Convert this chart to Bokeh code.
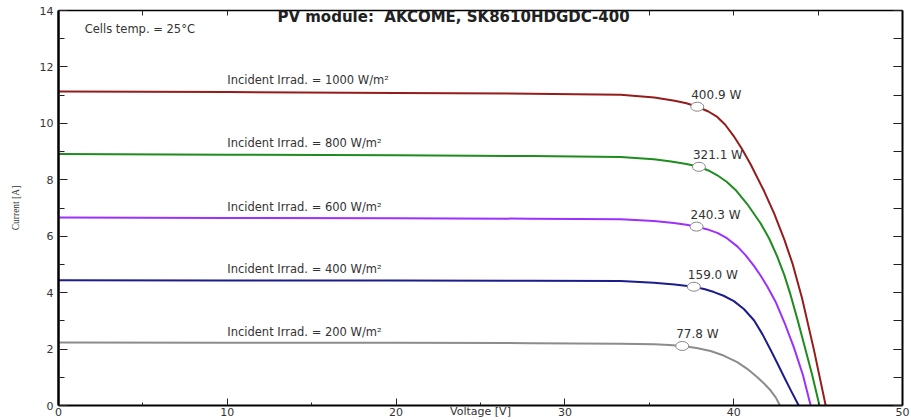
from bokeh.plotting import figure
from bokeh.models import (Range1d, LinearAxis, SingleIntervalTicker, FixedTicker, Label,
                          ColumnDataSource, CustomJSTickFormatter)
from bokeh.embed import file_html
from bokeh.resources import INLINE
from bokeh.core.properties import value

# ---------------- data ----------------
irradiance = [1000, 800, 600, 400, 200]
colors = ["#961b1b", "#1e8c1e", "#9b30ff", "#1c1c8c", "#8c8c8c"]

v_1000 = [0, 10, 20, 28, 33.3, 35.3, 36.5, 37.2, 37.84, 38.5, 39.0, 39.5, 40.0, 40.5, 41.0,
          41.8, 42.4, 43.0, 43.5, 44.05, 44.75, 45.45]
i_1000 = [11.13, 11.11, 11.08, 11.05, 11.01, 10.92, 10.80, 10.71, 10.59, 10.42, 10.24, 9.95,
          9.55, 9.08, 8.55, 7.60, 6.80, 5.88, 5.00, 3.80, 1.98, 0.0]

v_800 = [0, 10, 20, 28, 33.3, 35.27, 36.3, 37.2, 37.94, 38.5, 39.03, 39.6, 40.11, 40.8, 41.6,
         42.1, 42.58, 43.0, 43.37, 43.8, 44.2, 44.65, 45.08]
i_800 = [8.91, 8.89, 8.87, 8.84, 8.81, 8.73, 8.65, 8.56, 8.46, 8.33, 8.16, 7.92, 7.64, 7.14,
         6.45, 5.92, 5.28, 4.62, 3.92, 3.00, 2.10, 1.08, 0.0]

v_600 = [0, 10, 20, 28, 33.3, 35.27, 36.46, 37.2, 37.8, 38.4, 39.03, 39.6, 40.21, 40.7, 41.2,
         41.6, 41.99, 42.48, 43.0, 43.57, 44.1, 44.56]
i_600 = [6.66, 6.65, 6.64, 6.62, 6.60, 6.54, 6.47, 6.41, 6.34, 6.25, 6.12, 5.93, 5.64, 5.33,
         4.95, 4.60, 4.22, 3.68, 2.95, 2.05, 1.08, 0.0]

v_400 = [0, 10, 20, 28, 33.3, 35.27, 36.5, 37.64, 38.3, 38.83, 39.4, 40.01, 40.6, 41.2, 41.7,
         42.19, 42.6, 42.98, 43.4, 43.85]
i_400 = [4.44, 4.43, 4.43, 4.42, 4.41, 4.35, 4.29, 4.21, 4.12, 4.02, 3.89, 3.70, 3.42, 3.02,
         2.53, 1.97, 1.48, 1.02, 0.52, 0.0]

v_200 = [0, 10, 20, 28, 33.3, 35.27, 36.2, 36.95, 37.8, 38.63, 39.4, 40.21, 40.8, 41.4, 41.8,
         42.19, 42.5, 42.74]
i_200 = [2.23, 2.22, 2.22, 2.21, 2.19, 2.17, 2.14, 2.11, 2.04, 1.93, 1.77, 1.54, 1.30, 1.00,
         0.78, 0.53, 0.28, 0.0]

mpp_v = [37.84, 37.94, 37.80, 37.64, 36.95]
mpp_i = [10.59, 8.46, 6.34, 4.21, 2.11]
mpp_labels = ["400.9 W", "321.1 W", "240.3 W", "159.0 W", "77.8 W"]

title_text = "PV module:\u00a0 AKCOME, SK8610HDGDC-400"
temp_text = "Cells temp. = 25°C"
x_label = "Voltage [V]"
y_label = "Current [A]"

top_ticks = [0, 5, 10, 35, 40, 45, 50]   # ticks of the top border not hidden by the title

curves_v = [v_1000, v_800, v_600, v_400, v_200]
curves_i = [i_1000, i_800, i_600, i_400, i_200]

FONT = "DejaVu Sans"
TXT = "#333333"

# ---------------- figure ----------------
p = figure(width=911, height=420, output_backend="svg", toolbar_location=None,
           x_range=Range1d(0, 50), y_range=Range1d(0, 14),
           x_axis_location=None, y_axis_location=None,
           min_border_left=58, min_border_right=9, min_border_top=10, min_border_bottom=15)
p.xgrid.visible = False
p.ygrid.visible = False
p.outline_line_color = None
p.background_fill_color = "white"
p.border_fill_color = "white"

blank = CustomJSTickFormatter(code="return ''")


def make_axis(ticker, line_width, maj_in, min_in, show_labels):
    ax = LinearAxis(ticker=ticker)
    ax.axis_line_color = "black"
    ax.axis_line_width = line_width
    ax.major_tick_in = maj_in
    ax.major_tick_out = 0
    ax.minor_tick_in = min_in
    ax.minor_tick_out = 0
    ax.major_tick_line_color = "#222222"
    ax.minor_tick_line_color = "#222222"
    ax.major_tick_line_width = 1
    ax.minor_tick_line_width = 1
    if show_labels:
        ax.major_label_text_font = FONT
        ax.major_label_text_font_size = "11px"
        ax.major_label_text_color = TXT
    else:
        ax.formatter = blank
        ax.major_label_standoff = 0
    return ax


xb = make_axis(SingleIntervalTicker(interval=10, num_minor_ticks=2), 2, 7, 3, True)
xb.major_label_standoff = 2
xb.axis_label = x_label
xb.axis_label_text_font = FONT
xb.axis_label_text_font_size = "11px"
xb.axis_label_text_font_style = "normal"
xb.axis_label_text_color = TXT
xb.axis_label_standoff = -14
p.add_layout(xb, "below")

yl = make_axis(SingleIntervalTicker(interval=2, num_minor_ticks=2), 2.5, 9, 6, True)
yl.major_label_standoff = 5
yl.axis_label = y_label
yl.axis_label_text_font = "Liberation Serif"
yl.axis_label_text_font_size = "9.5px"
yl.axis_label_text_font_style = "normal"
yl.axis_label_text_color = TXT
yl.axis_label_standoff = 16
p.add_layout(yl, "left")

yr = make_axis(SingleIntervalTicker(interval=2, num_minor_ticks=2), 2, 9, 9, False)
p.add_layout(yr, "right")

xt = make_axis(FixedTicker(ticks=top_ticks), 1.5, 5, 5, False)
p.add_layout(xt, "above")

# ---------------- curves ----------------
for v, i, c in zip(curves_v, curves_i, colors):
    p.line(v, i, line_color=c, line_width=2, line_join="round")

# irradiance labels
irr_src = ColumnDataSource(dict(
    x=[10] * len(irradiance),
    y=[ci[0] for ci in curves_i],
    t=[f"Incident Irrad. = {g} W/m²" for g in irradiance],
))
p.text(x="x", y="y", text="t", source=irr_src, text_font=value(FONT), text_font_size="11.5px",
       text_color=TXT, text_align="left", text_baseline="bottom", y_offset=-4)

# maximum power points
p.ellipse(x=mpp_v, y=mpp_i, width=13, height=9, width_units="screen", height_units="screen",
          fill_color="white", line_color="#888888", line_width=1)
mpp_src = ColumnDataSource(dict(x=mpp_v, y=mpp_i, t=mpp_labels))
p.text(x="x", y="y", text="t", source=mpp_src, text_font=value(FONT), text_font_size="12px",
       text_color=TXT, text_align="left", text_baseline="bottom", x_offset=-6, y_offset=-5)

# ---------------- annotations ----------------
p.add_layout(Label(x=23.4, y=13.78, text=title_text, text_font=FONT, text_font_size="15px",
                   text_font_style="bold", text_color="#222222", text_align="center",
                   text_baseline="middle"))
p.add_layout(Label(x=1.55, y=13.34, text=temp_text, text_font=FONT, text_font_size="11.5px",
                   text_color=TXT, text_align="left", text_baseline="middle"))

open("out.html", "w").write(file_html(p, INLINE))
